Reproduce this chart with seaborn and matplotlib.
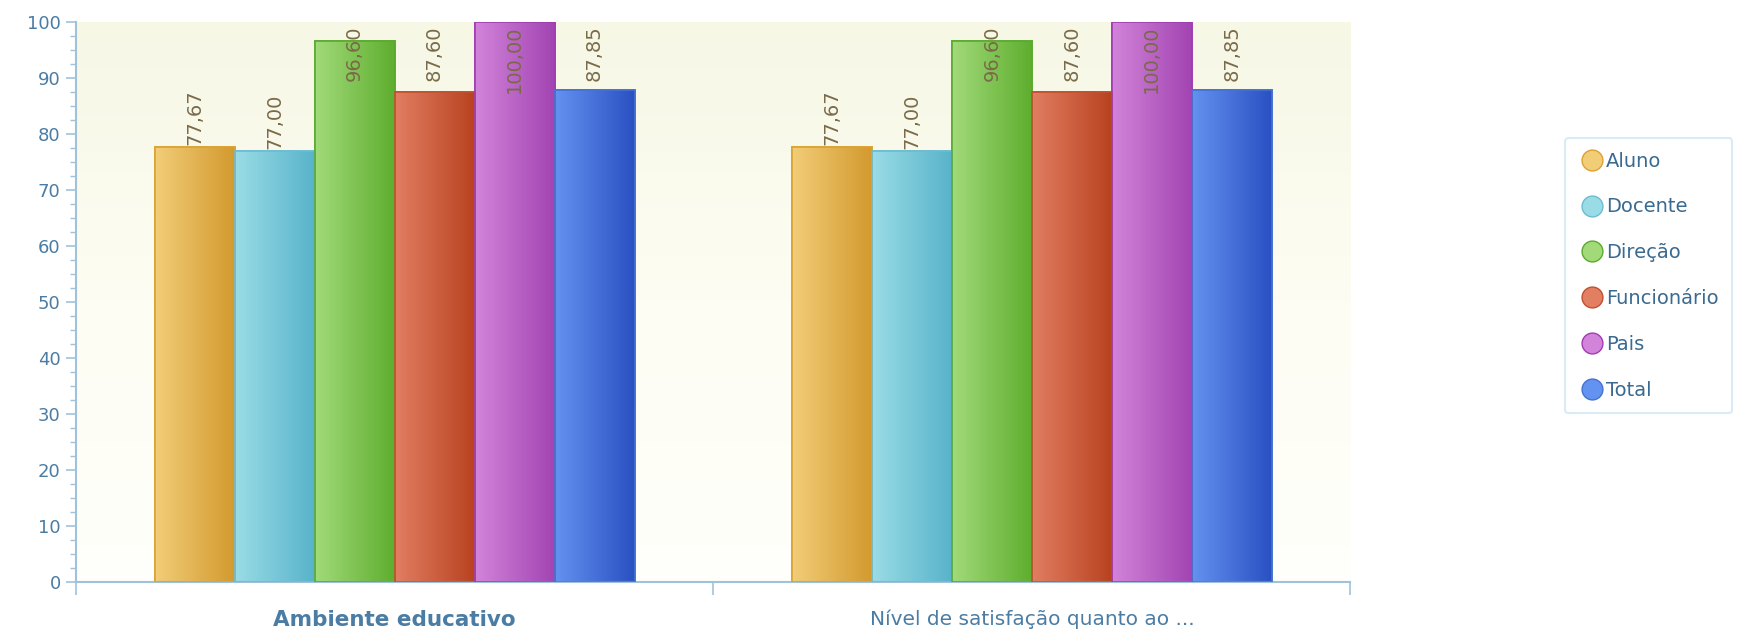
import numpy as np
import pandas as pd
import seaborn as sns
import matplotlib.pyplot as plt
from matplotlib.colors import LinearSegmentedColormap
from matplotlib.ticker import MultipleLocator, FixedLocator

categories = ["Ambiente educativo", "Nível de satisfação quanto ao ..."]
groups = ["Aluno", "Docente", "Direção", "Funcionário", "Pais", "Total"]
values_ambiente = [77.67, 77.00, 96.60, 87.60, 100.00, 87.85]
values_satisfacao = [77.67, 77.00, 96.60, 87.60, 100.00, 87.85]

# gradient (light, dark) and edge per group
light = ["#f2cd78", "#9adce6", "#a2da7a", "#e27e62", "#d284da", "#6492f0"]
dark = ["#d39a2e", "#58b3ca", "#5eae2e", "#b84220", "#a244b2", "#2a50c2"]
edge = ["#dba232", "#6cbcd0", "#5aaa30", "#c05030", "#a03cb0", "#4472d2"]

df = pd.DataFrame({
    "categoria": np.repeat(categories, len(groups)),
    "grupo": groups * len(categories),
    "valor": values_ambiente + values_satisfacao,
})

sns.set_style("white")
plt.rcParams['font.family'] = ['DejaVu Sans']

fig = plt.figure(figsize=(17.47, 6.32), dpi=100)
ax = fig.add_axes([0.0435, 0.079, 0.7295, 0.886])

txt_col = "#4a7ca4"
axis_col = "#9fc2da"

sns.barplot(data=df, x="categoria", y="valor", hue="grupo", hue_order=groups,
            palette=dict(zip(groups, dark)), width=0.753, ax=ax, legend=False,
            saturation=1, err_kws={"linewidth": 0})

ax.set_xlim(-0.5, 1.5)
ax.set_ylim(0, 100)

# background gradient
bg = LinearSegmentedColormap.from_list("bg", ["#fffffb", "#fdfdf3", "#f7f7e6"])
ax.imshow(np.linspace(0, 1, 256).reshape(-1, 1), cmap=bg, aspect="auto",
          extent=(-0.5, 1.5, 0, 100), origin="lower", zorder=0)

# gradient fill on bars
grad = np.linspace(0, 1, 256).reshape(1, -1)
for i, cont in enumerate(ax.containers):
    cm = LinearSegmentedColormap.from_list(f"g{i}", [light[i], dark[i]])
    for bar in cont:
        x0, w, h = bar.get_x(), bar.get_width(), bar.get_height()
        bar.set_edgecolor(edge[i])
        bar.set_linewidth(1.2)
        bar.set_zorder(2)
        im = ax.imshow(grad, cmap=cm, aspect="auto",
                       extent=(x0, x0 + w, 0, h), zorder=2.5)
        im.set_clip_path(bar)
        ax.add_patch(plt.Rectangle((x0, 0), w, h, fill=False,
                                   edgecolor=edge[i], linewidth=1.2, zorder=3))
        lab = f"{h:.2f}".replace(".", ",")
        if h + 13 > 100:
            ax.text(x0 + w / 2, 99.4, lab, rotation=90, ha="center", va="top",
                    fontsize=14, color="#7a6a48", zorder=4)
        else:
            ax.text(x0 + w / 2, h + 0.4, lab, rotation=90, ha="center", va="bottom",
                    fontsize=14, color="#7a6a48", zorder=4)

ax.set_xlim(-0.5, 1.5)
ax.set_ylim(0, 100)

# axes styling
for s in ["top", "right"]:
    ax.spines[s].set_visible(False)
ax.spines["left"].set_color(axis_col)
ax.spines["bottom"].set_color(axis_col)
ax.spines["left"].set_linewidth(1.5)
ax.spines["bottom"].set_linewidth(1.5)

ax.yaxis.set_major_locator(MultipleLocator(10))
ax.yaxis.set_minor_locator(MultipleLocator(2.5))
ax.tick_params(axis="y", which="major", length=7, width=1.2, color=axis_col,
               labelcolor=txt_col, labelsize=13, pad=4, left=True)
ax.tick_params(axis="y", which="minor", length=4, width=1, color=axis_col, left=True)

ax.xaxis.set_minor_locator(FixedLocator([-0.5, 0.5, 1.5]))
ax.tick_params(axis="x", which="minor", length=9, width=1.2, color=axis_col,
               direction="out", bottom=True)
ax.tick_params(axis="x", which="major", length=0, labelcolor=txt_col, pad=20)
ax.set_xticks([0, 1])
ax.set_xticklabels(categories)
ax.get_xticklabels()[0].set_fontsize(15.5)
ax.get_xticklabels()[0].set_fontweight("bold")
ax.get_xticklabels()[1].set_fontsize(14.5)
ax.set_xlabel("")
ax.set_ylabel("")

# legend
handles = [plt.Line2D([], [], marker="o", linestyle="", markersize=15,
                      markerfacecolor=light[i], markeredgecolor=edge[i],
                      markeredgewidth=1.0) for i in range(len(groups))]
leg = fig.legend(handles, groups, loc="upper left", bbox_to_anchor=(0.8905, 0.797),
                 frameon=True, fontsize=14, labelspacing=1.38, handletextpad=0.1,
                 borderpad=0.7, handlelength=1.3, fancybox=True)
for t in leg.get_texts():
    t.set_color("#3a6a90")
leg.get_frame().set_edgecolor("#cfe6f6")
leg.get_frame().set_linewidth(1.5)

fig.savefig("out.png", dpi=100)
